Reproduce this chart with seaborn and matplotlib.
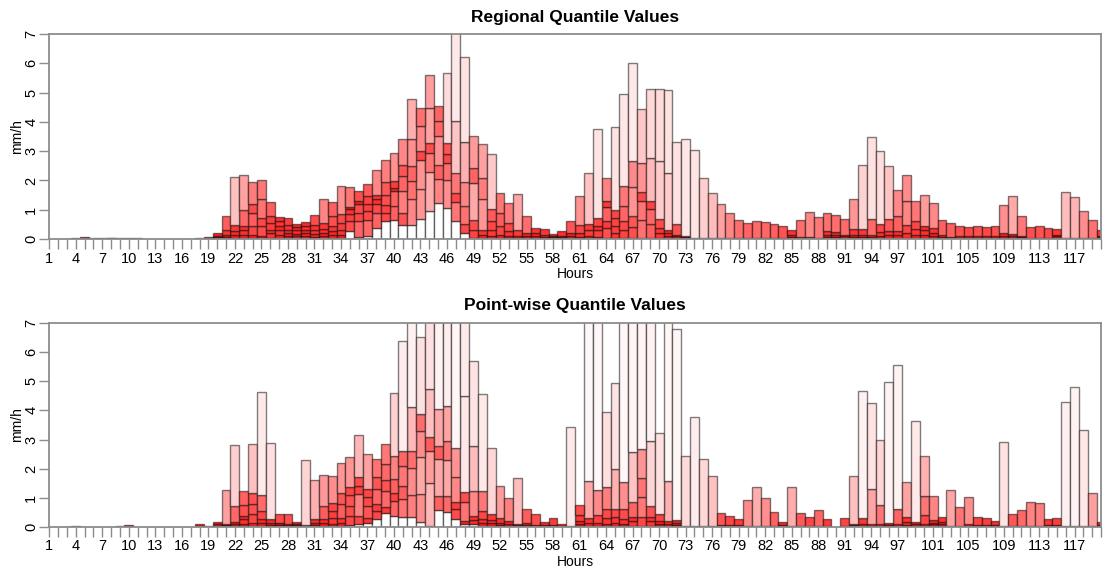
import numpy as np
import matplotlib
matplotlib.use("Agg")
import matplotlib.pyplot as plt
import seaborn as sns

hours = np.arange(1, 121)
tick_labels = list(range(1, 98, 3)) + [101, 105, 109, 113, 117]

# ---------------- Regional quantile boundaries (mm/h) ----------------
reg_q1 = [0,0,0,0,0,0,0,0,0,0, 0,0,0,0,0,0,0,0,0,0,
          0,0,0.02,0.05,0.05,0.03,0.02,0.02,0.01,0.01,
          0.01,0.01,0.02,0.05,0.26,0.08,0.1,0.38,0.6,0.66,
          0.49,0.49,0.7,0.97,1.23,1.07,0.62,0.2,0.05,0.02,
          0.01,0.01,0.01,0,0,0,0,0,0,0,
          0,0,0.02,0.02,0.02,0.03,0.05,0.05,0.05,0.03,
          0.02,0.01,0,0,0,0,0,0,0,0,
          0,0,0,0,0,0,0,0,0,0, 0,0,0,0,0,0,0,0,0,0,
          0,0,0,0,0,0,0,0,0,0, 0,0,0,0,0,0,0,0,0,0]
reg_q2 = [0,0,0,0,0,0,0,0,0,0, 0,0,0,0,0,0,0,0,0,0,
          0.03,0.05,0.15,0.15,0.1,0.2,0.15,0.12,0.1,0.1,
          0.08,0.1,0.15,0.15,0.6,0.6,0.65,0.89,0.9,1.14,
          0.89,1.35,1.72,2.28,2.05,2.02,1.28,0.52,0.32,0.15,
          0.1,0.05,0.03,0.02,0.02,0.02,0.01,0.01,0.01,0.02,
          0.02,0.04,0.07,0.38,0.2,0.3,0.4,0.66,0.5,0.2,
          0.1,0.05,0.02,0.01,0.01,0,0,0.01,0.01,0.01,
          0.01,0.01,0.01,0.01,0.02,0.01,0.01,0.01,0.03,0.03,
          0.02,0.03,0.03,0.03,0.03,0.05,0.05,0.05,0.05,0.05,
          0.03,0.01,0.01,0.01,0.01,0.01,0.01,0.01,0.02,0.02,
          0.01,0.01,0.01,0.01,0.02,0.01,0,0,0,0.01]
reg_q3 = [0,0,0,0,0,0,0,0,0,0, 0,0,0,0,0,0,0,0,0,0.02,
          0.08,0.15,0.3,0.43,0.43,0.32,0.32,0.2,0.18,0.22,
          0.18,0.2,0.26,0.32,0.85,0.89,0.95,1.2,1.17,1.63,
          1.63,1.97,2.71,2.94,2.54,2.61,1.58,1.12,0.66,0.32,
          0.3,0.15,0.09,0.05,0.05,0.05,0.03,0.03,0.03,0.05,
          0.08,0.1,0.3,0.6,0.45,0.6,0.8,1.3,1.03,0.38,
          0.2,0.1,0.04,0.02,0.01,0.01,0.01,0.02,0.02,0.02,
          0.02,0.02,0.02,0.02,0.05,0.02,0.02,0.02,0.08,0.08,
          0.05,0.08,0.08,0.08,0.1,0.15,0.15,0.2,0.15,0.15,
          0.1,0.03,0.02,0.02,0.02,0.02,0.02,0.02,0.05,0.05,
          0.03,0.02,0.02,0.02,0.05,0.02,0.01,0.01,0.01,0.03]
reg_q4 = [0,0,0,0,0.01,0,0,0.01,0,0, 0,0,0,0,0,0,0,0,0.01,0.06,
          0.15,0.28,0.45,0.89,0.72,0.55,0.43,0.32,0.3,0.3,
          0.32,0.35,0.43,0.55,1.02,1.2,1.2,1.35,1.52,1.74,
          2.14,2.49,3.0,3.28,3.51,2.9,2.25,1.94,1.92,1.35,
          0.6,0.43,0.26,0.1,0.1,0.1,0.07,0.06,0.06,0.12,
          0.2,0.32,0.45,1.08,0.72,1.12,1.78,1.61,1.29,0.7,
          0.3,0.15,0.06,0.03,0.02,0.01,0.02,0.03,0.03,0.03,
          0.03,0.03,0.03,0.03,0.08,0.04,0.04,0.03,0.15,0.15,
          0.1,0.15,0.15,0.15,0.25,0.29,0.29,0.47,0.35,0.3,
          0.2,0.06,0.04,0.04,0.04,0.04,0.04,0.04,0.12,0.1,
          0.06,0.03,0.03,0.03,0.1,0.03,0.02,0.02,0.02,0.06]
reg_q5 = [0,0,0,0.01,0.03,0.01,0.01,0.02,0.01,0.01, 0.01,0,0,0,0,0,0,0.01,0.03,0.12,
          0.32,0.47,0.98,1.21,1.35,0.78,0.6,0.49,0.42,0.45,
          0.49,0.55,0.78,0.86,1.1,1.29,1.46,1.52,1.94,1.97,
          2.54,3.42,3.85,4.46,4.03,3.29,4.04,3.31,2.43,2.09,
          1.03,0.89,0.55,0.3,0.2,0.2,0.15,0.1,0.12,0.2,
          0.49,0.52,0.72,1.29,1.0,1.8,2.65,2.6,2.77,2.68,
          2.26,0.51,0.09,0.05,0.03,0.02,0.03,0.05,0.05,0.05,
          0.05,0.05,0.05,0.05,0.15,0.06,0.08,0.05,0.29,0.25,
          0.15,0.34,0.34,0.7,0.52,0.7,0.78,1.29,0.63,0.43,
          0.36,0.15,0.08,0.1,0.1,0.1,0.1,0.1,0.2,0.18,
          0.12,0.05,0.05,0.05,0.15,0.04,0.03,0.03,0.03,0.12]
reg_q6 = [0,0.01,0.01,0.02,0.06,0.03,0.02,0.05,0.02,0.02,
          0.02,0.01,0.01,0.01,0.01,0.01,0.01,0.02,0.07,0.2,
          0.78,2.12,2.17,1.94,2.03,1.25,0.75,0.72,0.52,0.58,
          0.83,1.37,1.25,1.8,1.77,1.63,1.88,2.37,2.71,2.94,
          3.4,4.77,4.46,5.59,4.54,5.68,7.4,6.21,3.51,3.26,
          2.91,1.57,1.23,1.54,0.78,0.38,0.34,0.17,0.26,0.6,
          1.46,2.26,3.76,2.09,3.82,4.96,6.02,4.45,5.11,5.11,
          5.08,3.31,3.4,3.03,2.09,1.57,1.2,0.89,0.64,0.55,
          0.6,0.58,0.52,0.43,0.3,0.64,0.93,0.74,0.89,0.83,
          0.7,1.35,2.52,3.47,3.02,2.49,1.66,2.2,1.29,1.52,
          1.23,0.64,0.55,0.46,0.41,0.46,0.4,0.46,1.15,1.46,
          0.8,0.4,0.43,0.36,0.34,1.61,1.43,0.95,0.64,0.3]

# ---------------- Point-wise quantile boundaries (mm/h) ----------------
pw_q1 = [0,0,0,0,0,0,0,0,0,0, 0,0,0,0,0,0,0,0,0,0,
         0,0,0.02,0.03,0.05,0,0,0,0,0,
         0,0,0.02,0.05,0.08,0.1,0.15,0.27,0.48,0.38,
         0.33,0.35,0.18,0.05,0.58,0.5,0.27,0.1,0.1,0.05,
         0.02,0.01,0,0,0,0,0,0,0,0,
         0,0.01,0.01,0.02,0.02,0.02,0.02,0.03,0.02,0.01,
         0.01,0.01,0,0,0,0,0,0,0,0,
         0,0,0,0,0,0,0,0,0,0, 0,0,0,0,0,0,0,0,0,0,
         0,0,0,0,0,0,0,0,0,0, 0,0,0,0,0,0,0,0,0,0]
pw_q2 = [0,0,0,0,0,0,0,0,0,0, 0,0,0,0,0,0,0,0,0,0,
         0.02,0.05,0.1,0.15,0.15,0.03,0.03,0.01,0.01,0,
         0.03,0.05,0.1,0.15,0.38,0.38,0.32,0.56,0.7,0.9,
         0.96,1.11,1.13,1.51,1.07,1.05,0.6,0.22,0.24,0.15,
         0.05,0.03,0.02,0.01,0.01,0.01,0,0,0,0,
         0.03,0.05,0.05,0.1,0.15,0.1,0.2,0.33,0.2,0.05,
         0.05,0.03,0.01,0,0,0,0.01,0.01,0.01,0.01,
         0,0.01,0.01,0.01,0,0.01,0.01,0.01,0.01,0,
         0.01,0.01,0.02,0.02,0.02,0.02,0.02,0.03,0.02,0.03,
         0.03,0.02,0,0.01,0.01,0.01,0.01,0.01,0,0.01,
         0.01,0.01,0.01,0.01,0.01,0,0,0,0,0.01]
pw_q3 = [0,0,0,0,0,0,0,0,0,0, 0,0,0,0,0,0,0,0,0,0.02,
         0.05,0.1,0.26,0.43,0.26,0.08,0.08,0.03,0.03,0.01,
         0.08,0.12,0.3,0.32,0.72,1.14,0.72,0.79,1.24,1.16,
         1.42,2.02,2.39,2.61,2.33,2.31,0.84,0.84,0.39,0.27,
         0.12,0.08,0.05,0.03,0.03,0.02,0.01,0.01,0,0.01,
         0.1,0.15,0.15,0.3,0.33,0.27,0.33,1.02,0.35,0.1,
         0.1,0.08,0.02,0.01,0.01,0.01,0.02,0.02,0.02,0.02,
         0.01,0.02,0.02,0.02,0.01,0.02,0.02,0.02,0.02,0,
         0.02,0.03,0.05,0.05,0.05,0.05,0.05,0.08,0.05,0.1,
         0.1,0.05,0.01,0.02,0.02,0.02,0.02,0.02,0,0.02,
         0.02,0.02,0.02,0.02,0.02,0,0,0,0.01,0.02]
pw_q4 = [0,0,0,0,0,0,0,0,0,0.01, 0,0,0,0,0,0,0,0.01,0,0.05,
         0.08,0.18,0.38,0.8,0.55,0.15,0.12,0.06,0.06,0.03,
         0.15,0.26,0.55,0.78,1.1,1.4,1.03,1.3,1.62,1.64,
         2.08,2.61,3.3,3.07,2.79,2.96,1.72,1.19,1.24,0.56,
         0.25,0.15,0.1,0.06,0.06,0.04,0.03,0.03,0.01,0.02,
         0.2,0.3,0.4,0.62,0.62,0.6,0.84,1.67,0.73,0.19,
         0.22,0.15,0.03,0.02,0.02,0.02,0.04,0.04,0.04,0.03,
         0.02,0.03,0.03,0.04,0.02,0.03,0.03,0.03,0.03,0,
         0.03,0.06,0.1,0.1,0.1,0.08,0.1,0.18,0.1,0.4,
         0.15,0.1,0.02,0.03,0.05,0.04,0.04,0.04,0.01,0.03,
         0.03,0.03,0.03,0.04,0.04,0.01,0.01,0.01,0.02,0.04]
pw_q5 = [0,0,0,0,0,0,0,0,0.01,0.02, 0,0,0,0,0,0,0,0.03,0.01,0.1,
         0.11,0.72,0.74,1.18,1.11,0.26,0.15,0.1,0.1,0.08,
         0.26,0.72,0.83,1.18,1.38,1.72,1.32,1.7,2.16,2.44,
         2.61,4.1,3.87,4.73,4.04,4.16,2.71,4.5,2.79,1.22,
         0.45,0.3,0.2,0.1,0.15,0.08,0.06,0.08,0.03,0.04,
         0.4,1.58,1.27,1.38,2.0,1.55,2.58,2.67,2.96,0.45,
         1.59,0.24,0.05,0.03,0.03,0.03,0.08,0.08,0.08,0.05,
         0.03,0.05,0.05,0.08,0.03,0.05,0.05,0.05,0.05,0,
         0.05,0.1,0.3,1.32,0.75,0.15,0.6,0.35,0.18,1.06,
         0.23,0.18,0.03,0.05,0.1,0.08,0.08,0.08,0.02,0.05,
         0.05,0.05,0.05,0.08,0.08,0.02,0.02,0.02,0.03,0.08]
pw_q6 = [0,0,0.01,0.02,0.01,0,0,0.01,0.04,0.06,
         0.01,0,0,0,0,0,0,0.09,0.02,0.17,
         1.27,2.8,1.23,2.85,4.63,2.88,0.46,0.46,0.17,2.31,
         1.62,1.78,1.75,2.2,2.4,3.17,2.49,2.33,2.84,4.58,
         6.38,8.5,6.53,7.3,9.0,8.0,9.0,8.0,5.7,4.55,
         2.72,1.4,0.98,1.69,0.6,0.43,0.17,0.3,0.09,3.44,
         0.74,9.0,8.0,3.93,4.93,8.5,8.5,8.0,8.0,3.24,
         8.0,6.78,2.44,3.77,2.34,1.75,0.49,0.38,0.29,0.94,
         1.37,1.0,0.53,0.18,1.37,0.48,0.35,0.58,0.26,0,
         0.32,1.74,4.68,4.26,3.0,4.98,5.55,1.55,3.65,2.43,
         1.05,0.35,1.27,0.7,1.03,0.35,0.32,0.21,2.92,0.46,
         0.59,0.86,0.81,0.26,0.32,4.29,4.79,3.32,1.18,0.18]

# ---------------- style ----------------
sns.set_theme(style="ticks")
plt.rcParams["font.family"] = ["Liberation Sans", "DejaVu Sans"]
plt.rcParams["text.color"] = "black"
plt.rcParams["axes.labelcolor"] = "black"
plt.rcParams["xtick.color"] = "black"
plt.rcParams["ytick.color"] = "black"

EDGE = (0, 0, 0, 0.5)
GRAY = "#8c8c8c"
# segment height -> red intensity (short segments = high density = dark red)
DQ_PTS = [0.0, 0.1, 0.3, 0.6, 1.0, 1.5, 2.5, 4.0, 8.0]
INT_PTS = [0.92, 0.85, 0.72, 0.56, 0.42, 0.27, 0.13, 0.06, 0.02]


def draw_panel(ax, bounds, title):
    b = np.array(bounds, dtype=float)
    base = b[0]
    m = base > 0
    ax.bar(hours[m], base[m], width=1.0, bottom=0, color="white",
           edgecolor=EDGE, linewidth=1.0)
    for i in range(1, len(b)):
        lo, hi = b[i - 1], b[i]
        dq = hi - lo
        m = dq > 0
        t = np.interp(dq, DQ_PTS, INT_PTS)
        cols = np.stack([np.ones_like(t), 1 - t, 1 - t], axis=1)
        ax.bar(hours[m], dq[m], width=1.0, bottom=lo[m], color=cols[m],
               edgecolor=EDGE, linewidth=1.0)
    ax.set_xlim(1, 120)
    ax.set_ylim(0, 7)
    ax.set_xticks(hours)
    ax.set_xticklabels([str(h) if h in tick_labels else "" for h in hours],
                       fontsize=10.5)
    ax.set_yticks(range(8))
    ax.set_yticklabels([str(v) for v in range(8)], fontsize=10.5, rotation=90,
                       va="center")
    ax.tick_params(axis="x", bottom=True, direction="out", length=7, width=1,
                   color=GRAY, labelcolor="black", pad=2)
    ax.tick_params(axis="y", left=True, direction="out", length=7, width=1,
                   color=GRAY, labelcolor="black", pad=1)
    for s in ax.spines.values():
        s.set_visible(True)
        s.set_color(GRAY)
        s.set_linewidth(1.3)
    ax.set_title(title, fontsize=12.5, fontweight="bold", pad=9, color="black")
    ax.set_xlabel("Hours", fontsize=10, labelpad=1)
    ax.set_ylabel("mm/h", fontsize=10)
    ax.yaxis.set_label_coords(-0.024, 0.5)


fig = plt.figure(figsize=(11.08, 5.71), dpi=100)
ax1 = fig.add_axes([0.0445, 0.5814, 0.9492, 0.359])
ax2 = fig.add_axes([0.0445, 0.0771, 0.9492, 0.3573])
draw_panel(ax1, [reg_q1, reg_q2, reg_q3, reg_q4, reg_q5, reg_q6],
           "Regional Quantile Values")
draw_panel(ax2, [pw_q1, pw_q2, pw_q3, pw_q4, pw_q5, pw_q6],
           "Point-wise Quantile Values")
fig.savefig("out.png", dpi=100)
